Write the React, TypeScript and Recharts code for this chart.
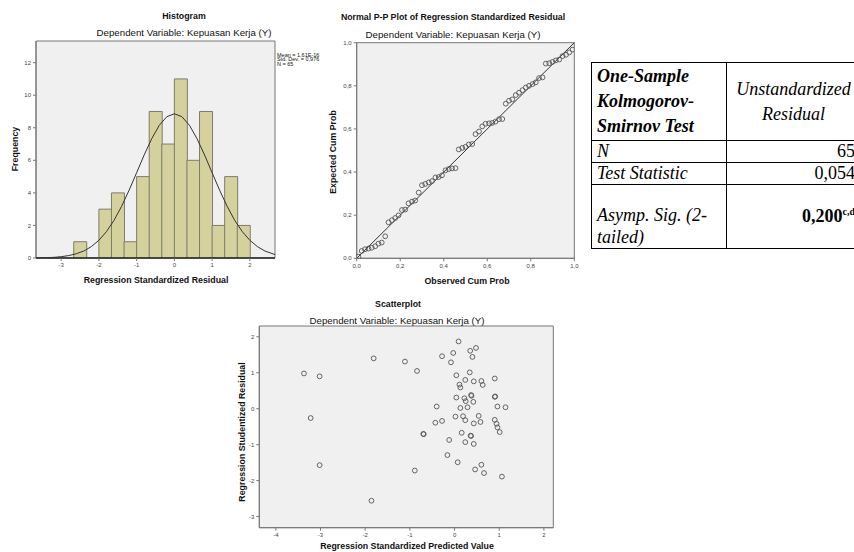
import React from 'react'
import {
  ComposedChart,
  ScatterChart,
  Scatter,
  Bar,
  XAxis,
  YAxis,
  CartesianGrid,
  ReferenceLine,
  ReferenceArea,
} from 'recharts'

// histogram: 19 bins of width 1/3 from -3.667 to 2.667
const binCenters = [-3.5, -3.17, -2.83, -2.5, -2.17, -1.83, -1.5, -1.17, -0.83, -0.5, -0.17, 0.17, 0.5, 0.83, 1.17, 1.5, 1.83, 2.17, 2.5]
const binFreq = [0, 0, 0, 1, 0, 3, 4, 1, 5, 9, 7, 11, 6, 9, 2, 5, 2, 0, 0]
// normal curve
const curveX = [-3.667, -3.4, -3.2, -3.0, -2.8, -2.6, -2.4, -2.2, -2.0, -1.8, -1.6, -1.4, -1.2, -1.0, -0.8, -0.6, -0.4, -0.2, 0, 0.2, 0.4, 0.6, 0.8, 1.0, 1.2, 1.4, 1.6, 1.8, 2.0, 2.2, 2.4, 2.667]
const curveY = [0.01, 0.02, 0.04, 0.08, 0.15, 0.26, 0.43, 0.7, 1.09, 1.62, 2.31, 3.17, 4.16, 5.24, 6.33, 7.33, 8.15, 8.68, 8.86, 8.68, 8.15, 7.33, 6.33, 5.24, 4.16, 3.17, 2.31, 1.62, 1.09, 0.7, 0.43, 0.21]

// normal P-P plot
const ppObserved = [0.008, 0.023, 0.038, 0.054, 0.069, 0.085, 0.1, 0.115, 0.131, 0.146, 0.162, 0.177, 0.192, 0.208, 0.223, 0.238, 0.254, 0.269, 0.285, 0.3, 0.315, 0.331, 0.346, 0.362, 0.377, 0.392, 0.408, 0.423, 0.438, 0.454, 0.469, 0.485, 0.5, 0.515, 0.531, 0.546, 0.562, 0.577, 0.592, 0.608, 0.623, 0.638, 0.654, 0.669, 0.685, 0.7, 0.715, 0.731, 0.746, 0.762, 0.777, 0.792, 0.808, 0.823, 0.838, 0.854, 0.869, 0.885, 0.9, 0.915, 0.931, 0.946, 0.962, 0.977, 0.992]
const ppExpected = [0.008, 0.034, 0.042, 0.045, 0.049, 0.056, 0.068, 0.073, 0.102, 0.167, 0.177, 0.187, 0.199, 0.224, 0.226, 0.255, 0.263, 0.268, 0.305, 0.339, 0.345, 0.352, 0.358, 0.375, 0.377, 0.385, 0.408, 0.414, 0.417, 0.418, 0.505, 0.512, 0.517, 0.528, 0.53, 0.576, 0.588, 0.612, 0.624, 0.626, 0.628, 0.634, 0.645, 0.646, 0.717, 0.731, 0.737, 0.757, 0.768, 0.78, 0.792, 0.8, 0.808, 0.816, 0.836, 0.839, 0.903, 0.905, 0.911, 0.918, 0.922, 0.938, 0.944, 0.955, 0.968]

// residual scatterplot
const predValue = [-3.37, -3.02, -3.22, -3.02, -1.81, -1.86, -1.11, -0.84, -0.89, -0.7, -0.69, -0.4, -0.43, -0.28, -0.28, -0.08, 0.09, -0.03, 0.35, 0.48, 0.4, 0.04, 0.34, 0.24, 0.43, 0.6, 0.63, 0.9, 0.11, 0.13, 0.37, 0.38, 0.04, 0.22, 0.25, 0.42, 0.9, 0.91, 0.13, 0.29, 0.96, 1.14, 0.02, 0.19, 0.24, 0.54, 0.58, 0.43, 0.9, 0.94, 0.96, 1.01, 0.16, 0.36, 0.37, -0.12, 0.24, 0.43, -0.16, 0.07, 0.6, 0.46, 0.66, 1.06]
const studResid = [0.98, 0.9, -0.26, -1.57, 1.4, -2.56, 1.31, 1.05, -1.72, -0.7, -0.71, 0.06, -0.39, -0.34, 1.46, 1.29, 1.87, 1.55, 1.61, 1.69, 1.44, 0.93, 1.01, 0.8, 0.76, 0.77, 0.66, 0.84, 0.67, 0.59, 0.38, 0.36, 0.31, 0.29, 0.21, 0.19, 0.33, 0.34, 0.02, 0.04, 0.06, 0.04, -0.22, -0.21, -0.32, -0.2, -0.37, -0.41, -0.31, -0.42, -0.52, -0.65, -0.67, -0.75, -0.76, -0.87, -0.93, -0.98, -1.29, -1.49, -1.56, -1.69, -1.79, -1.89]

const histTicksX = [-3, -2, -1, 0, 1, 2]
const histTicksY = [0, 2, 4, 6, 8, 10, 12]
const ppTicks = [0, 0.2, 0.4, 0.6, 0.8, 1]
const scTicksX = [-4, -3, -2, -1, 0, 1, 2]
const scTicksY = [-3, -2, -1, 0, 1, 2]

const histData = binCenters.map((bin, i) => ({ bin, freq: binFreq[i] }))
const curveData = curveX.map((x, i) => ({ x, y: curveY[i] }))
const ppData = ppObserved.map((x, i) => ({ x, y: ppExpected[i] }))
const scData = predValue.map((x, i) => ({ x, y: studResid[i] }))

const SANS = '"Liberation Sans", Arial, sans-serif'
const SERIF = '"Liberation Serif", "Times New Roman", serif'
const FRAME = '#777'
const PLOT_BG = '#f0f0f0'
const tickStyle = { fontSize: 6, fill: '#444', fontFamily: SANS }
const comma = (v: number) => v.toFixed(1).replace('.', ',')

const Ring = (p: any) => (
  <circle cx={p.cx} cy={p.cy} r={2.4} fill="none" stroke="#555" strokeWidth={0.9} />
)
const NoDot = () => <g />

const Txt = ({ x, y, size = 9.7, bold = false, rotate = false, left = false, children }: any) => (
  <div
    style={{
      position: 'absolute',
      left: x,
      top: y,
      transform: `translate(${left ? '0' : '-50%'}, -50%)${rotate ? ' rotate(-90deg)' : ''}`,
      fontFamily: SANS,
      fontSize: size,
      fontWeight: bold ? 'bold' : 'normal',
      whiteSpace: 'nowrap',
      lineHeight: 1,
      color: '#111',
    }}
  >
    {children}
  </div>
)

const axisProps = {
  tick: tickStyle,
  tickSize: 3,
  tickLine: { stroke: FRAME },
  axisLine: { stroke: FRAME },
  allowDataOverflow: true,
}

function Histogram() {
  return (
    <div style={{ position: 'absolute', left: 0, top: 0 }}>
      <ComposedChart width={290} height={290} data={histData} barCategoryGap={0} margin={{ top: 41, right: 15, bottom: 18, left: 16 }}>
        <CartesianGrid fill={PLOT_BG} horizontal={false} vertical={false} xAxisId="num" yAxisId="freq" />
        <XAxis xAxisId="bins" dataKey="bin" type="category" hide height={0} />
        <YAxis yAxisId="freq" dataKey="y" type="number" domain={[0, 13.33]} ticks={histTicksY} width={20} {...axisProps} />
        <Bar xAxisId="bins" yAxisId="freq" dataKey="freq" fill="#d5d19c" stroke="#7d7c6c" strokeWidth={1} isAnimationActive={false} />
        <Scatter xAxisId="num" yAxisId="freq" data={curveData} shape={NoDot} line={{ stroke: '#333', strokeWidth: 1 }} lineType="joint" isAnimationActive={false} />
        <ReferenceArea xAxisId="num" yAxisId="freq" x1={-3.667} x2={2.667} y1={0} y2={13.33} fill="none" stroke={FRAME} ifOverflow="visible" />
        <XAxis xAxisId="num" dataKey="x" type="number" domain={[-3.667, 2.667]} ticks={histTicksX} height={14} {...axisProps} axisLine={{ stroke: '#222', strokeWidth: 1.3 }} />
      </ComposedChart>
    </div>
  )
}

function PPPlot() {
  return (
    <div style={{ position: 'absolute', left: 300, top: 0 }}>
      <ScatterChart width={290} height={290} margin={{ top: 42.7, right: 15.7, bottom: 17.7, left: 36.7 }}>
        <CartesianGrid fill={PLOT_BG} horizontal={false} vertical={false} />
        <XAxis dataKey="x" type="number" domain={[0, 1]} ticks={ppTicks} tickFormatter={comma} height={14} {...axisProps} />
        <YAxis dataKey="y" type="number" domain={[0, 1]} ticks={ppTicks} tickFormatter={comma} width={20} {...axisProps} />
        <ReferenceArea x1={0} x2={1} y1={0} y2={1} fill="none" stroke={FRAME} ifOverflow="visible" />
        <ReferenceLine segment={[{ x: 0, y: 0 }, { x: 1, y: 1 }]} stroke="#333" strokeWidth={1} />
        <Scatter data={ppData} shape={Ring} isAnimationActive={false} />
      </ScatterChart>
    </div>
  )
}

function ResidualScatter() {
  return (
    <div style={{ position: 'absolute', left: 220, top: 290 }}>
      <ScatterChart width={340} height={262} margin={{ top: 36, right: 6.7, bottom: 10.3, left: 19.3 }}>
        <CartesianGrid fill={PLOT_BG} horizontal={false} vertical={false} />
        <XAxis dataKey="x" type="number" domain={[-4.37, 2.21]} ticks={scTicksX} height={14} {...axisProps} />
        <YAxis dataKey="y" type="number" domain={[-3.31, 2.3]} ticks={scTicksY} width={20} {...axisProps} />
        <ReferenceArea x1={-4.37} x2={2.21} y1={-3.31} y2={2.3} fill="none" stroke={FRAME} ifOverflow="visible" />
        <Scatter data={scData} shape={Ring} isAnimationActive={false} />
      </ScatterChart>
    </div>
  )
}

const cell = { border: '1px solid #000', padding: '0 6px 0 5px', fontFamily: SERIF, fontSize: 18, fontStyle: 'italic' } as const

function KsTable() {
  return (
    <table style={{ position: 'absolute', left: 591, top: 62, borderCollapse: 'collapse', tableLayout: 'fixed', width: 268 }}>
      <tbody>
        <tr style={{ height: 78 }}>
          <td style={{ ...cell, width: 123, fontWeight: 'bold', lineHeight: '25px', verticalAlign: 'middle' }}>
            One-Sample<br />Kolmogorov-<br />Smirnov Test
          </td>
          <td style={{ ...cell, width: 123, textAlign: 'center', lineHeight: '25px' }}>
            Unstandardized<br />Residual
          </td>
        </tr>
        <tr style={{ height: 22 }}>
          <td style={{ ...cell, lineHeight: '21px' }}>N</td>
          <td style={{ ...cell, fontStyle: 'normal', textAlign: 'right', lineHeight: '21px' }}>65</td>
        </tr>
        <tr style={{ height: 22 }}>
          <td style={{ ...cell, lineHeight: '21px' }}>Test Statistic</td>
          <td style={{ ...cell, fontStyle: 'normal', textAlign: 'right', lineHeight: '21px' }}>0,054</td>
        </tr>
        <tr style={{ height: 64 }}>
          <td style={{ ...cell, lineHeight: '22px', verticalAlign: 'bottom' }}>
            Asymp. Sig. (2-<br />tailed)
          </td>
          <td style={{ ...cell, fontStyle: 'normal', fontWeight: 'bold', textAlign: 'right', verticalAlign: 'middle' }}>
            0,200<sup style={{ fontSize: 10 }}>c,d</sup>
          </td>
        </tr>
      </tbody>
    </table>
  )
}

export default function App() {
  return (
    <div style={{ position: 'absolute', left: 0, top: 0, width: 854, height: 552, overflow: 'hidden', background: '#fff' }}>
      <Histogram />
      <Txt x={184} y={16} size={8.8} bold>Histogram</Txt>
      <Txt x={184} y={33}>Dependent Variable: Kepuasan Kerja (Y)</Txt>
      <Txt x={15} y={149} size={8.8} bold rotate>Frequency</Txt>
      <Txt x={156} y={280} size={8.8} bold>Regression Standardized Residual</Txt>
      <Txt x={277} y={55.7} size={5.5} left>Mean = 1,61E-16</Txt>
      <Txt x={277} y={60.3} size={5.5} left>Std. Dev. = 0,976</Txt>
      <Txt x={277} y={65} size={5.5} left>N = 65</Txt>

      <PPPlot />
      <Txt x={453} y={17} size={8.8} bold>Normal P-P Plot of Regression Standardized Residual</Txt>
      <Txt x={453} y={35}>Dependent Variable: Kepuasan Kerja (Y)</Txt>
      <Txt x={333} y={152} size={8.8} bold rotate>Expected Cum Prob</Txt>
      <Txt x={467} y={281} size={8.8} bold>Observed Cum Prob</Txt>

      <KsTable />

      <ResidualScatter />
      <Txt x={398} y={304} size={8.8} bold>Scatterplot</Txt>
      <Txt x={397} y={321}>Dependent Variable: Kepuasan Kerja (Y)</Txt>
      <Txt x={242} y={432} size={8.8} bold rotate>Regression Studentized Residual</Txt>
      <Txt x={407} y={546} size={8.8} bold>Regression Standardized Predicted Value</Txt>
    </div>
  )
}
